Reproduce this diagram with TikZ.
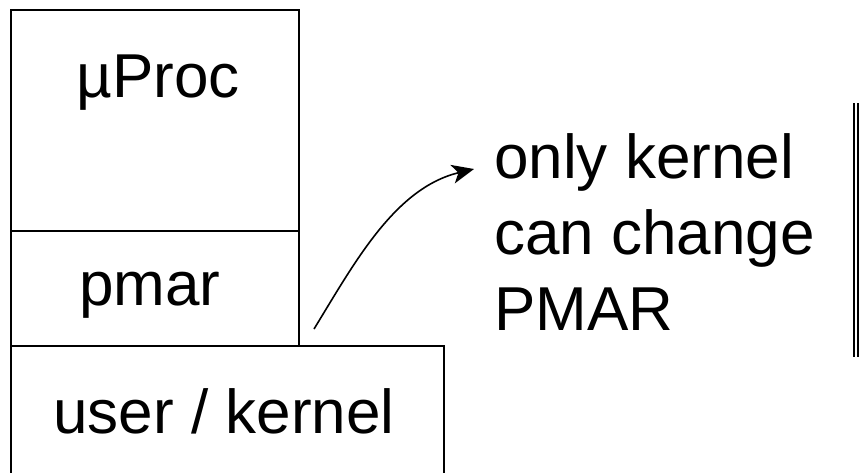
\documentclass[tikz,border=0pt]{standalone}
\usepackage{fontspec}
\setmainfont{Liberation Sans}
\usetikzlibrary{arrows.meta}

\tikzset{
  box/.style={draw, line width=1.6pt, rectangle, inner sep=0pt, anchor=north west},
  lbl/.style={font=\fontsize{62}{76}\selectfont, inner sep=0pt, anchor=base},
}

\begin{document}
\begin{tikzpicture}[x=1pt, y=-1pt]  % 以像素为单位, y 向下

    \useasboundingbox (0,0) rectangle (867,472);

    % 三个方框
    \node[box, minimum width=288pt, minimum height=221pt] (proc) at (10,9) {};   % 处理器
    \node[box, minimum width=288pt, minimum height=115pt] (pmar) at (10,230) {}; % pmar 寄存器
    \node[box, minimum width=433pt, minimum height=140pt] (mode) at (10,345) {}; % 模式位

    % 方框中的文字
    \node[lbl] (proclbl) at (158,97) {µProc};
    \node[lbl] (pmarlbl) at (150,305) {pmar};
    \node[lbl] (modelbl) at (224,433) {user / kernel};

    % 右侧说明 (base west 取最后一行的基线)
    \node[lbl, anchor=base west, align=left] (note) at (494,330) {only kernel\\can change\\PMAR};

    % 曲线箭头
    \coordinate (start) at (314,329);
    \coordinate (tip) at (474,169);
    \draw[line width=1.6pt, -{Stealth[length=22pt, width=19pt, inset=6pt]}]
        (start) .. controls (355,262) and (395,188) .. (tip);

    % 双竖线
    \draw[line width=1.4pt, double distance=2.6pt] (856,103) -- (856,357);

\end{tikzpicture}
\end{document}
